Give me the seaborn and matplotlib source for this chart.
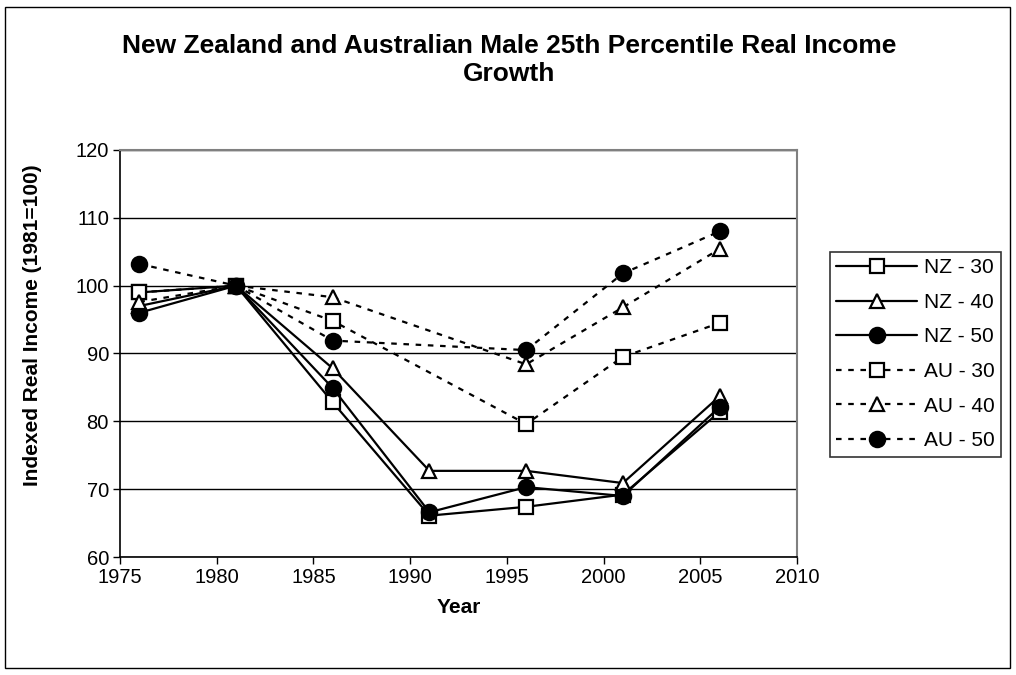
import matplotlib
matplotlib.use("Agg")
import matplotlib.pyplot as plt
import seaborn as sns
import pandas as pd
from matplotlib.patches import Rectangle

years_nz = [1976, 1981, 1986, 1991, 1996, 2001, 2006]
years_au = [1976, 1981, 1986, 1996, 2001, 2006]

nz_30 = [99.0, 100.0, 82.8, 66.1, 67.4, 69.2, 81.4]
nz_40 = [97.0, 100.0, 87.8, 72.7, 72.7, 70.9, 83.7]
nz_50 = [96.0, 100.0, 84.9, 66.6, 70.3, 69.0, 82.1]
au_30 = [99.0, 100.0, 94.8, 79.6, 89.5, 94.5]
au_40 = [97.6, 100.0, 98.3, 88.4, 96.8, 105.4]
au_50 = [103.2, 100.0, 91.9, 90.5, 101.8, 108.0]

series_names = ["NZ - 30", "NZ - 40", "NZ - 50", "AU - 30", "AU - 40", "AU - 50"]

title = "New Zealand and Australian Male 25th Percentile Real Income\nGrowth"
xlabel = "Year"
ylabel = "Indexed Real Income (1981=100)"

sns.set_theme(style="white")
plt.rcParams['font.family'] = ['Liberation Sans', 'DejaVu Sans']
plt.rcParams.update({"text.color": "black", "axes.labelcolor": "black",
                     "xtick.color": "black", "ytick.color": "black"})

fig = plt.figure(figsize=(10.16, 6.75), dpi=100)
ax = fig.add_axes([0.1181, 0.1748, 0.6663, 0.6030])

dash = (0, (2.5, 3))
data = [
    (series_names[0], years_nz, nz_30, "s", "-", "white", 10),
    (series_names[1], years_nz, nz_40, "^", "-", "white", 10),
    (series_names[2], years_nz, nz_50, "o", "-", "black", 11),
    (series_names[3], years_au, au_30, "s", dash, "white", 10),
    (series_names[4], years_au, au_40, "^", dash, "white", 10),
    (series_names[5], years_au, au_50, "o", dash, "black", 11),
]

for name, xs, ys, mk, ls, fc, ms in data:
    df = pd.DataFrame({"Year": xs, "Value": ys})
    sns.lineplot(data=df, x="Year", y="Value", ax=ax, color="black",
                 marker=mk, linestyle=ls, linewidth=1.6, markersize=ms,
                 markerfacecolor=fc, markeredgecolor="black", markeredgewidth=1.6,
                 label=name, zorder=3)

ax.set_xlim(1975, 2010)
ax.set_ylim(60, 120)
ax.set_xticks(range(1975, 2011, 5))
ax.set_yticks(range(60, 121, 10))
ax.yaxis.grid(True, color="black", linewidth=1.0)
ax.set_axisbelow(True)
ax.tick_params(axis="both", labelsize=14.5, length=5, width=1, color="black",
               labelcolor="black", direction="out", bottom=True, left=True, pad=3)
for s in ["top", "right"]:
    ax.spines[s].set_color("#808080")
    ax.spines[s].set_linewidth(1.5)
for s in ["left", "bottom"]:
    ax.spines[s].set_color("black")
    ax.spines[s].set_linewidth(1.2)

ax.set_xlabel(xlabel, fontsize=15, fontweight="bold", labelpad=8, color="black")
ax.set_ylabel(ylabel, fontsize=15, fontweight="bold", labelpad=10, color="black")
ax.yaxis.set_label_coords(-0.115, 0.57)

fig.text(0.501, 0.911, title, ha="center", va="center", fontsize=19,
         fontweight="bold", linespacing=1.17, color="black")

leg = ax.legend(loc="upper left", bbox_to_anchor=(0.8169, 0.6267),
                bbox_transform=fig.transFigure, frameon=True,
                fontsize=15, handlelength=3.9, handletextpad=0.3,
                borderpad=0.3, labelspacing=0.75, borderaxespad=0,
                fancybox=False, edgecolor="black")
leg.get_frame().set_linewidth(1.2)
for t in leg.get_texts():
    t.set_color("black")

fig.patches.append(Rectangle((0.005, 0.01), 0.989, 0.98, transform=fig.transFigure,
                             fill=False, edgecolor="black", linewidth=1.0))

fig.savefig("out.png", dpi=100)
